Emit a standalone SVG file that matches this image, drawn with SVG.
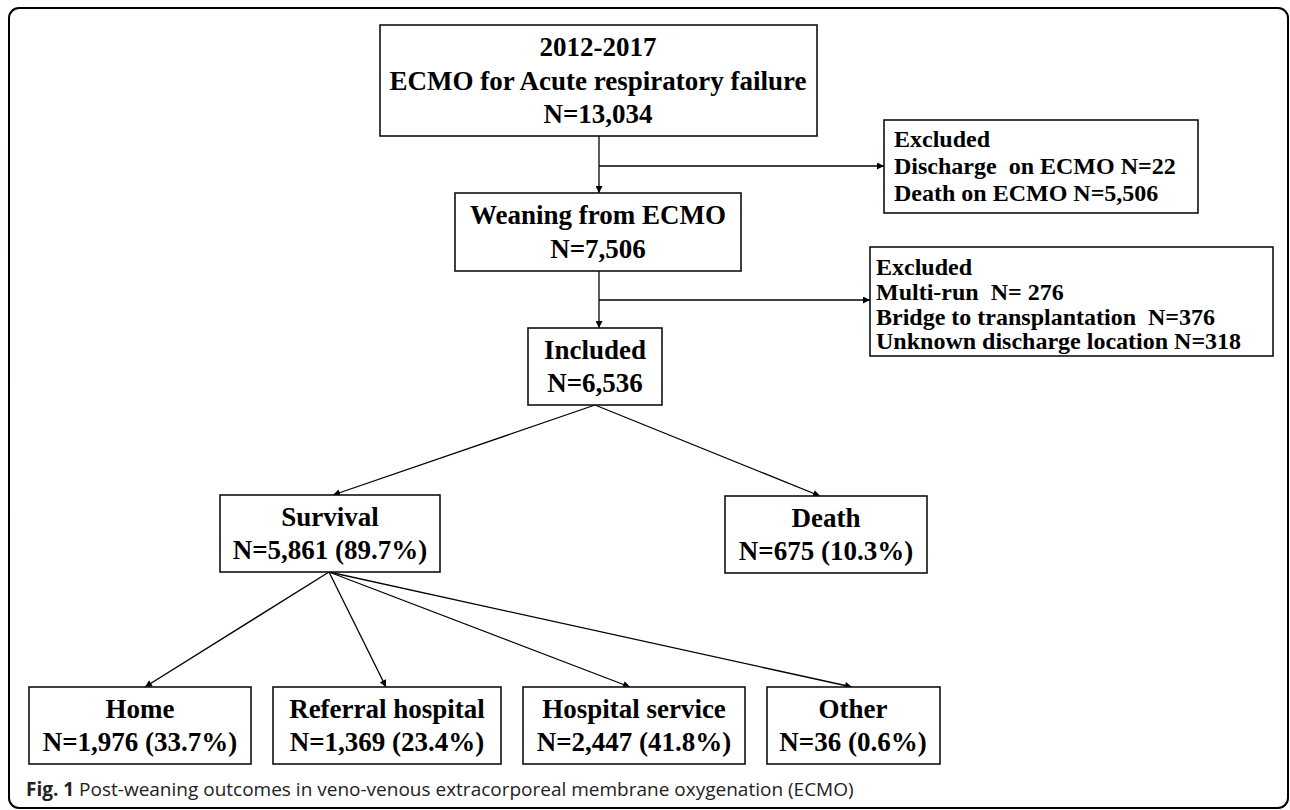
<svg xmlns="http://www.w3.org/2000/svg" width="1290" height="810" viewBox="0 0 1290 810">
<defs>
<marker id="ah" viewBox="0 0 10 10" refX="10" refY="5" markerWidth="8" markerHeight="7" markerUnits="userSpaceOnUse" orient="auto">
<path d="M0,0 L10,5 L0,10 z" fill="#000"/>
</marker>
<style>
.box{fill:#fff;stroke:#111;stroke-width:1.6}
.t{font-family:"Liberation Serif","Times New Roman",serif;font-weight:bold;font-size:27px;fill:#000}
.c{text-anchor:middle}
.ex{font-size:24px}
.ln{stroke:#000;stroke-width:1.3;fill:none}
.cap{font-family:"Open Sans","Liberation Sans",sans-serif;font-size:19px;fill:#222}
</style>
</defs>
<rect x="9" y="8" width="1279" height="800" rx="10" fill="#fff" stroke="#000" stroke-width="2"/>
<g id="connectors">
<line class="ln" x1="599" y1="136" x2="599" y2="193" marker-end="url(#ah)"/>
<line class="ln" x1="599" y1="166" x2="884" y2="166" marker-end="url(#ah)"/>
<line class="ln" x1="599" y1="271" x2="599" y2="328" marker-end="url(#ah)"/>
<line class="ln" x1="599" y1="300" x2="870" y2="300" marker-end="url(#ah)"/>
<line class="ln" x1="595" y1="405" x2="333" y2="495" marker-end="url(#ah)"/>
<line class="ln" x1="595" y1="405" x2="820" y2="496" marker-end="url(#ah)"/>
<line class="ln" x1="329" y1="572" x2="145" y2="687" marker-end="url(#ah)"/>
<line class="ln" x1="329" y1="572" x2="386" y2="687" marker-end="url(#ah)"/>
<line class="ln" x1="329" y1="572" x2="630" y2="687" marker-end="url(#ah)"/>
<line class="ln" x1="329" y1="572" x2="852" y2="687" marker-end="url(#ah)"/>
</g>
<g id="n-start">
<rect class="box" x="380" y="25" width="437" height="111"/>
<text class="t c" x="598" y="56">2012-2017</text>
<text class="t c" x="598" y="90">ECMO for Acute respiratory failure</text>
<text class="t c" x="598" y="123">N=13,034</text>
</g>
<g id="n-excl1">
<rect class="box" x="884" y="120" width="314" height="93"/>
<text class="t ex" x="894" y="147">Excluded</text>
<text class="t ex" x="894" y="174">Discharge&#160; on ECMO N=22</text>
<text class="t ex" x="894" y="201">Death on ECMO N=5,506</text>
</g>
<g id="n-wean">
<rect class="box" x="455" y="193" width="286" height="78"/>
<text class="t c" x="598" y="224">Weaning from ECMO</text>
<text class="t c" x="598" y="258">N=7,506</text>
</g>
<g id="n-excl2">
<rect class="box" x="870" y="247" width="403" height="109"/>
<text class="t ex" x="876" y="275">Excluded</text>
<text class="t ex" x="876" y="300">Multi-run&#160; N= 276</text>
<text class="t ex" x="876" y="325">Bridge to transplantation&#160; N=376</text>
<text class="t ex" x="876" y="349">Unknown discharge location N=318</text>
</g>
<g id="n-incl">
<rect class="box" x="528" y="328" width="134" height="77"/>
<text class="t c" x="595" y="359">Included</text>
<text class="t c" x="595" y="392">N=6,536</text>
</g>
<g id="n-surv">
<rect class="box" x="220" y="495" width="220" height="77"/>
<text class="t c" x="330" y="526">Survival</text>
<text class="t c" x="330" y="559">N=5,861 (89.7%)</text>
</g>
<g id="n-death">
<rect class="box" x="725" y="496" width="202" height="77"/>
<text class="t c" x="826" y="527">Death</text>
<text class="t c" x="826" y="560">N=675 (10.3%)</text>
</g>
<g id="n-home">
<rect class="box" x="29" y="687" width="222" height="77"/>
<text class="t c" x="140" y="718">Home</text>
<text class="t c" x="140" y="751">N=1,976 (33.7%)</text>
</g>
<g id="n-ref">
<rect class="box" x="273" y="687" width="228" height="77"/>
<text class="t c" x="387" y="718">Referral hospital</text>
<text class="t c" x="387" y="751">N=1,369 (23.4%)</text>
</g>
<g id="n-hosp">
<rect class="box" x="523" y="687" width="222" height="77"/>
<text class="t c" x="634" y="718">Hospital service</text>
<text class="t c" x="634" y="751">N=2,447 (41.8%)</text>
</g>
<g id="n-other">
<rect class="box" x="767" y="687" width="173" height="77"/>
<text class="t c" x="853" y="718">Other</text>
<text class="t c" x="853" y="751">N=36 (0.6%)</text>
</g>
<text class="cap" x="26" y="796"><tspan font-weight="bold">Fig. 1</tspan> Post-weaning outcomes in veno-venous extracorporeal membrane oxygenation (ECMO)</text>
</svg>
